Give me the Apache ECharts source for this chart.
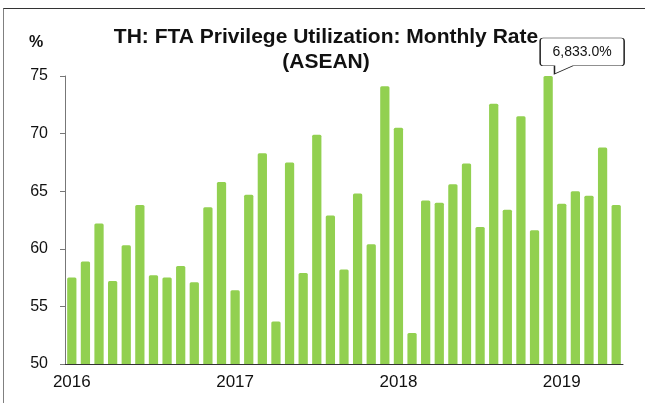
<!DOCTYPE html>
<html>
<head>
<meta charset="utf-8">
<script src="https://cdn.jsdelivr.net/npm/echarts@6/dist/echarts.min.js"></script>
<style>
  html, body { margin: 0; padding: 0; background: #fff; }
  #chart { position: absolute; left: 0; top: 0; width: 645px; height: 403px; }
  #frame {
    position: absolute; left: 3px; top: 8px; right: 0; bottom: 0;
    border-left: 1px solid #808080; border-top: 1px solid #333;
    pointer-events: none;
  }
</style>
</head>
<body>
<div id="chart"></div>
<div id="frame"></div>
<script>
// 月份 (2016-01 .. 2019-05)
const months = [
  '2016-01', '2016-02', '2016-03', '2016-04', '2016-05', '2016-06',
  '2016-07', '2016-08', '2016-09', '2016-10', '2016-11', '2016-12',
  '2017-01', '2017-02', '2017-03', '2017-04', '2017-05', '2017-06',
  '2017-07', '2017-08', '2017-09', '2017-10', '2017-11', '2017-12',
  '2018-01', '2018-02', '2018-03', '2018-04', '2018-05', '2018-06',
  '2018-07', '2018-08', '2018-09', '2018-10', '2018-11', '2018-12',
  '2019-01', '2019-02', '2019-03', '2019-04', '2019-05'
]

// utilization rate, %
const rates = [
  57.5, 58.9, 62.2, 57.2, 60.3, 63.8, 57.7, 57.5, 58.5, 57.1, 63.6, 65.8,
  56.4, 64.7, 68.3, 53.7, 67.5, 57.9, 69.9, 62.9, 58.2, 64.8, 60.4, 74.1,
  70.5, 52.7, 64.2, 64.0, 65.6, 67.4, 61.9, 72.6, 63.4, 71.5, 61.6, 6833.0,
  63.9, 65.0, 64.6, 68.8, 63.8
]

const yMin = 50
const yMax = 75
const yStep = 5

// the off-scale month gets a callout
const outIdx = rates.findIndex(v => v > yMax)
const outLabel = rates[outIdx].toLocaleString('en-US', { minimumFractionDigits: 1, maximumFractionDigits: 1 }) + '%'

const chart = echarts.init(document.getElementById('chart'))

const option = {
  backgroundColor: '#fff',
  animation: false,
  textStyle: { fontFamily: 'Liberation Sans, Arial, sans-serif' },
  title: {
    text: 'TH: FTA Privilege Utilization: Monthly Rate\n(ASEAN)',
    left: 321,
    textAlign: 'center',
    top: 20,
    textStyle: { fontSize: 21, fontWeight: 'bold', color: '#111', lineHeight: 25 }
  },
  graphic: [
    {
      type: 'text',
      left: 29,
      top: 35,
      style: { text: '%', font: 'bold 16px "Liberation Sans", Arial, sans-serif', fill: '#111' }
    }
  ],
  grid: { left: 65, right: 22, top: 76, bottom: 39 },
  xAxis: {
    type: 'category',
    data: months,
    boundaryGap: true,
    axisLine: { lineStyle: { color: '#333', width: 1 } },
    axisTick: {
      length: 6,
      lineStyle: { color: '#333' },
      interval: (i) => i % 12 === 0
    },
    axisLabel: {
      interval: (i) => i % 12 === 0,
      formatter: (v) => v.slice(0, 4),
      color: '#111',
      fontSize: 17,
      margin: 10
    },
    splitLine: { show: false }
  },
  yAxis: {
    type: 'value',
    min: yMin,
    max: yMax,
    interval: yStep,
    axisLine: { show: true, lineStyle: { color: '#777' } },
    axisTick: { show: true, length: 5, lineStyle: { color: '#777' } },
    axisLabel: { color: '#111', fontSize: 16, margin: 17 },
    splitLine: { show: false }
  },
  series: [
    {
      type: 'bar',
      data: rates,
      clip: true,
      barCategoryGap: '32%',
      itemStyle: { color: '#92D050', borderRadius: [1.5, 1.5, 0, 0] },
      markPoint: {
        symbol: 'path://M3,0 L79,0 Q82,0 82,3 L82,24 Q82,27 79,27 L32,27 L14,35 L14,27 L3,27 Q0,27 0,24 L0,3 Q0,0 3,0 Z',
        symbolSize: [84, 36],
        symbolKeepAspect: false,
        symbolOffset: [34, -20],
        itemStyle: { color: '#fff', borderColor: '#222', borderWidth: 1 },
        label: {
          show: true,
          position: 'inside',
          offset: [0, -4],
          formatter: outLabel,
          color: '#111',
          fontSize: 14
        },
        data: [{ coord: [months[outIdx], yMax] }]
      }
    }
  ]
}

chart.setOption(option)
</script>
</body>
</html>
